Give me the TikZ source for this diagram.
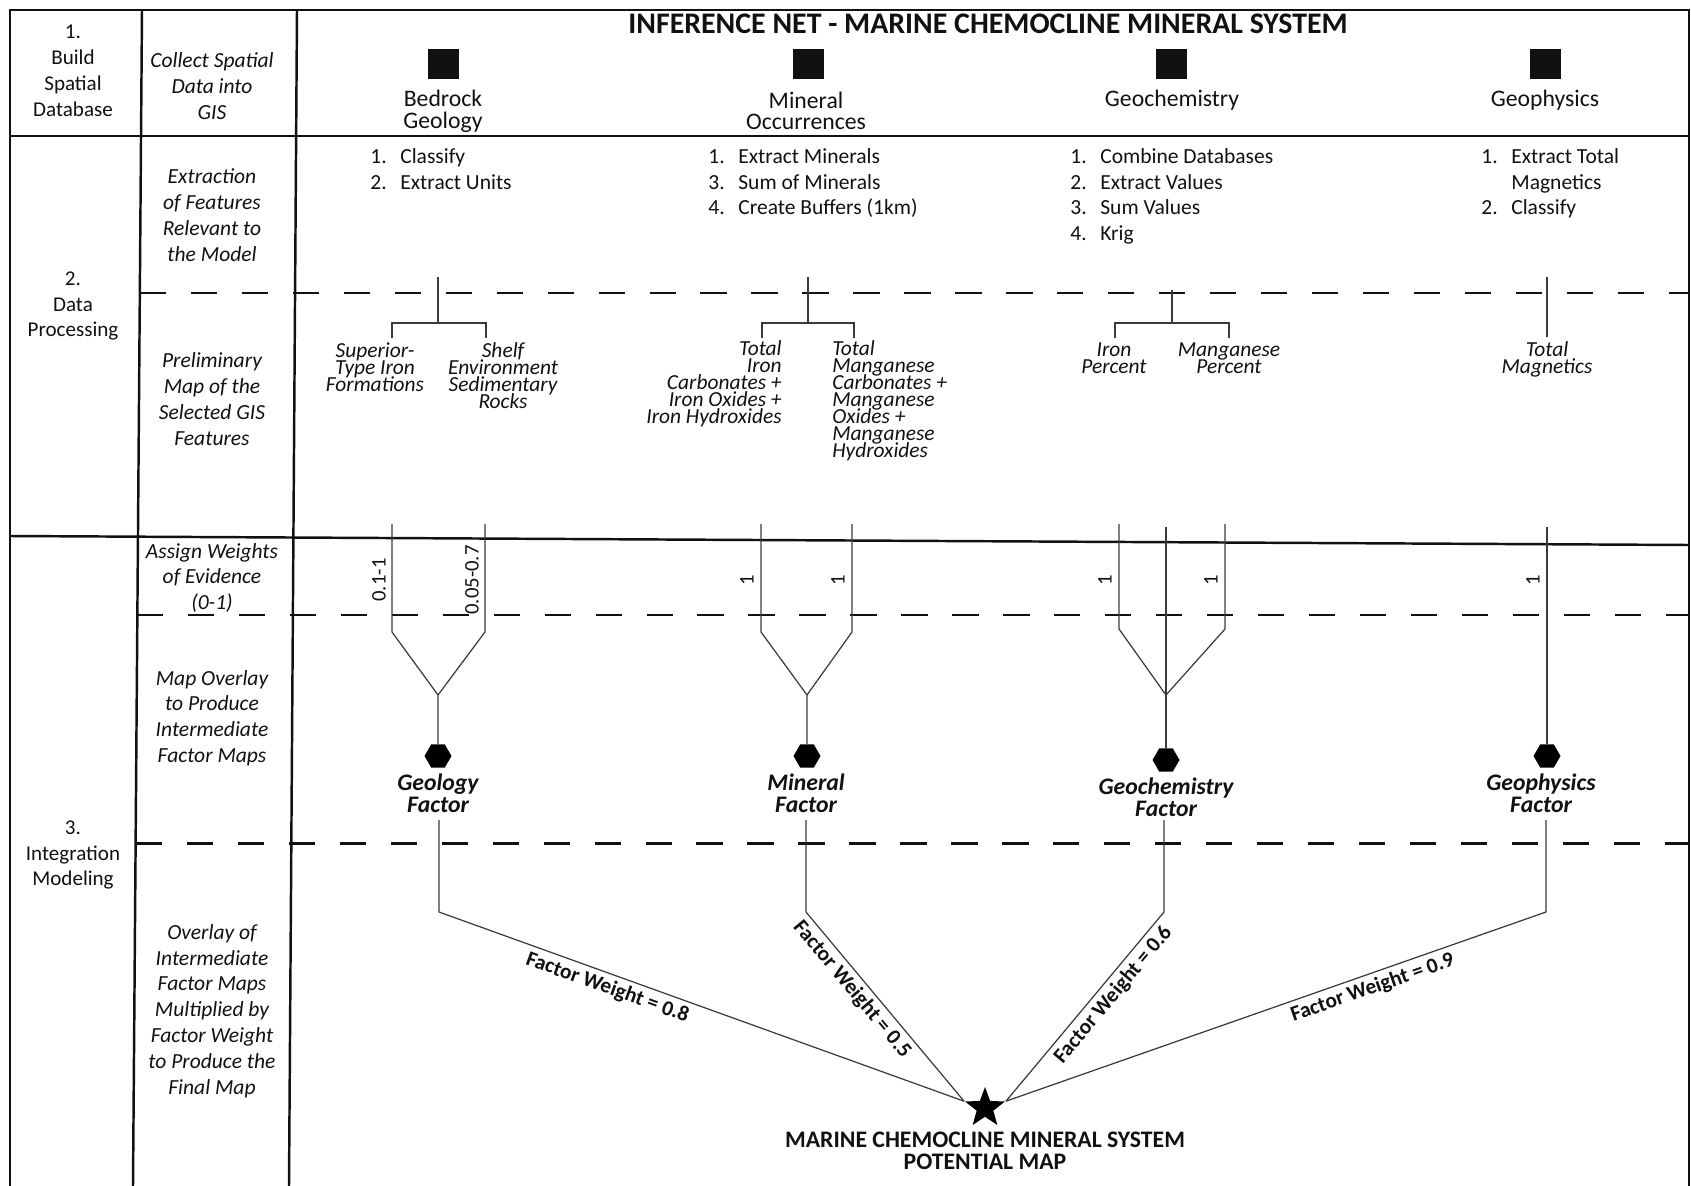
\documentclass[tikz,border=0pt]{standalone}
\usepackage{fontspec}
\setmainfont{Carlito}
\usetikzlibrary{calc,positioning,shapes.geometric}
\definecolor{ink}{HTML}{111111}
\definecolor{wiregray}{HTML}{3A3A3A}
\newcommand{\stepno}[1]{\makebox[0.6cm][l]{#1}}
\newcommand{\tightlines}{\lineskiplimit=-20pt\relax}
\tikzset{
  gridline/.style={draw=ink, line width=1.4pt},
  rowdash/.style={draw=ink, line width=1.7pt, dash pattern=on 15pt off 14pt},
  linkline/.style={draw=wiregray, line width=0.7pt},
  stagetext/.style={align=center, inner sep=0pt, text=ink,
    font={\fontsize{12}{14.7}\selectfont}},
  tasktext/.style={stagetext, font={\fontsize{12.25}{14.7}\selectfont\itshape}},
  titletext/.style={inner sep=0pt, text=ink, font={\fontsize{17}{18}\selectfont\bfseries}},
  sourcebox/.style={fill=ink, minimum size=0.62cm, inner sep=0pt},
  sourcelabel/.style={align=center, inner sep=0pt, text=ink,
    font={\fontsize{13.5}{12.3}\selectfont\tightlines}},
  steplist/.style={align=left, anchor=north west, inner sep=0pt, text=ink,
    font={\fontsize{12.25}{14.7}\selectfont}},
  featlabel/.style={inner sep=0pt, text=ink,
    font={\fontsize{12.2}{9.7}\selectfont\itshape\tightlines}},
  weightnum/.style={rotate=90, inner sep=0pt, text=ink,
    font={\fontsize{11.8}{11.8}\selectfont}},
  factorhex/.style={regular polygon, regular polygon sides=6, fill=black,
    minimum size=0.54cm, inner sep=0pt},
  factorlabel/.style={align=center, inner sep=0pt, text=ink,
    font={\fontsize{13.5}{12.6}\selectfont\bfseries\itshape\tightlines}},
  weightlabel/.style={sloped, below, inner sep=2.5pt, text=ink,
    font={\fontsize{12.2}{12.2}\selectfont\bfseries}},
  mapstarnode/.style={star, star points=5, star point ratio=2.4, fill=black,
    minimum size=0.84cm, inner sep=0pt},
  maplabel/.style={align=center, inner sep=0pt, text=ink,
    font={\fontsize{13.5}{12.8}\selectfont\bfseries\tightlines}}
}

\begin{document}
\begin{tikzpicture}[x=0.02cm,y=-0.02cm]
  \useasboundingbox (0,0) rectangle (1691,1186);

  % Table frame
  \draw[gridline] (10,1186) -- (10,10) -- (1689,10) -- (1689,1186);
  \draw[gridline] (142,10) -- (133,1186);
  \draw[gridline] (297,10) -- (289,1186);
  \draw[gridline] (10,136) -- (1689,136);
  \draw[gridline] (10,536) -- (1689,545);
  \draw[rowdash] (140,293) -- (1689,293);
  \draw[rowdash] (137,615) -- (1689,615);
  \draw[rowdash] (136,843) -- (1689,843);

  % Stage and task columns
  \node[stagetext] (stage1) at (73,71) {1.\\Build\\Spatial\\Database};
  \node[stagetext] (stage2) at (73,306) {2.\\Data\\Processing};
  \node[stagetext] (stage3) at (73,855) {3.\\Integration\\Modeling};
  \node[tasktext] (task1) at (212,86) {Collect Spatial\\Data into\\GIS};
  \node[tasktext] (task2) at (212,215) {Extraction\\of Features\\Relevant to\\the Model};
  \node[tasktext] (task3) at (212,399) {Preliminary\\Map of the\\Selected GIS\\Features};
  \node[tasktext] (task4) at (212,578) {Assign Weights\\of Evidence\\(0-1)};
  \node[tasktext] (task5) at (212,718) {Map Overlay\\to Produce\\Intermediate\\Factor Maps};
  \node[tasktext] (task6) at (212,1011) {Overlay of\\Intermediate\\Factor Maps\\Multiplied by\\Factor Weight\\to Produce the\\Final Map};

  % Data sources
  \node[titletext] (title) at (988,24) {INFERENCE NET - MARINE CHEMOCLINE MINERAL SYSTEM};
  \node[sourcebox] (bedsq) at (443,64) {};
  \node[sourcebox] (minsq) at (808,64) {};
  \node[sourcebox] (chemsq) at (1171,64) {};
  \node[sourcebox] (physq) at (1545,64) {};
  \node[sourcelabel] (bedsrc) at (443,111) {Bedrock\\Geology};
  \node[sourcelabel] (minsrc) at (806,111) {Mineral\\Occurrences};
  \node[sourcelabel] (chemsrc) at (1172,100) {Geochemistry};
  \node[sourcelabel] (physrc) at (1545,100) {Geophysics};

  % Processing steps
  \node[steplist] (bedsteps) at (370,148) {\stepno{1.}Classify\\\stepno{2.}Extract Units};
  \node[steplist] (minsteps) at (708,148) {\stepno{1.}Extract Minerals\\\stepno{3.}Sum of Minerals\\\stepno{4.}Create Buffers (1km)};
  \node[steplist] (chemsteps) at (1070,148) {\stepno{1.}Combine Databases\\\stepno{2.}Extract Values\\\stepno{3.}Sum Values\\\stepno{4.}Krig};
  \node[steplist] (physteps) at (1481,148) {\stepno{1.}Extract Total\\\stepno{}Magnetics\\\stepno{2.}Classify};

  % Preliminary feature maps
  \coordinate (bedtop) at (438,277);   \coordinate (bedfork) at (438,323);
  \coordinate (bedleft) at (392,338);  \coordinate (bedright) at (486,338);
  \coordinate (mintop) at (808,277);   \coordinate (minfork) at (808,323);
  \coordinate (minleft) at (762,338);  \coordinate (minright) at (854,338);
  \coordinate (chemtop) at (1172,290); \coordinate (chemfork) at (1172,323);
  \coordinate (chemleft) at (1115,338); \coordinate (chemright) at (1229,338);
  \coordinate (phytop) at (1547,277);  \coordinate (phyend) at (1547,337);
  \draw[linkline] (bedtop) -- (bedfork);
  \draw[linkline] (bedleft) |- (bedfork) -| (bedright);
  \draw[linkline] (mintop) -- (minfork);
  \draw[linkline] (minleft) |- (minfork) -| (minright);
  \draw[linkline] (chemtop) -- (chemfork);
  \draw[linkline] (chemleft) |- (chemfork) -| (chemright);
  \draw[linkline] (phytop) -- (phyend);
  \node[featlabel, align=center] (featsup) at (375,367) {Superior-\\Type Iron\\Formations};
  \node[featlabel, align=center] (featshelf) at (503,375.5) {Shelf\\Environment\\Sedimentary\\Rocks};
  \node[featlabel, align=right, anchor=east] (featiron) at (782,384) {Total\\Iron\\Carbonates +\\Iron Oxides +\\Iron Hydroxides};
  \node[featlabel, align=left, anchor=west] (featmang) at (832,401) {Total\\Manganese\\Carbonates +\\Manganese\\Oxides +\\Manganese\\Hydroxides};
  \node[featlabel, align=center] (featfe) at (1114,358.5) {Iron\\Percent};
  \node[featlabel, align=center] (featmn) at (1229,358.5) {Manganese\\Percent};
  \node[featlabel, align=center] (featmag) at (1547,359.5) {Total\\Magnetics};

  % Weights of evidence and factor maps
  \node[factorhex] (bedhex) at (438,756) {};
  \node[factorhex] (minhex) at (807,756) {};
  \node[factorhex] (chemhex) at (1166,760) {};
  \node[factorhex] (phyhex) at (1547,756) {};
  \coordinate (bedw1) at (392,524);  \coordinate (bedw2) at (485,524);
  \coordinate (bedjoin) at (438,695);
  \coordinate (minw1) at (761,524);  \coordinate (minw2) at (852,524);
  \coordinate (minjoin) at (807,695);
  \coordinate (chemw1) at (1119,524); \coordinate (chemw2) at (1225,524);
  \coordinate (chemw3) at (1166,527); \coordinate (chemjoin) at (1166,695);
  \coordinate (phyw) at (1547,527);
  \draw[linkline] (bedw1) -- ++(0,108) -- (bedjoin) -- (bedhex);
  \draw[linkline] (bedw2) -- ++(0,108) -- (bedjoin);
  \draw[linkline] (minw1) -- ++(0,108) -- (minjoin) -- (minhex);
  \draw[linkline] (minw2) -- ++(0,108) -- (minjoin);
  \draw[linkline] (chemw1) -- ++(0,105) -- (chemjoin);
  \draw[linkline] (chemw2) -- ++(0,105) -- (chemjoin);
  \draw[linkline] (chemw3) -- (chemhex);
  \draw[linkline] (phyw) -- (phyhex);
  \node[weightnum] (bedwa) at (379,580) {0.1-1};
  \node[weightnum] (bedwb) at (472,580) {0.05-0.7};
  \node[weightnum] (minwa) at (747,580) {1};
  \node[weightnum] (minwb) at (838,580) {1};
  \node[weightnum] (chemwa) at (1105,580) {1};
  \node[weightnum] (chemwb) at (1211,580) {1};
  \node[weightnum] (phywa) at (1533,580) {1};
  \node[factorlabel] (bedfac) at (438,793) {Geology\\Factor};
  \node[factorlabel] (minfac) at (806,793) {Mineral\\Factor};
  \node[factorlabel] (chemfac) at (1166,797) {Geochemistry\\Factor};
  \node[factorlabel] (phyfac) at (1541,793) {Geophysics\\Factor};

  % Final potential map
  \node[mapstarnode] (mapstar) at (985,1108) {};
  \node[maplabel] (maptitle) at (985,1151) {MARINE CHEMOCLINE MINERAL SYSTEM\\POTENTIAL MAP};
  \coordinate (bedfoot) at (439,820);   \coordinate (bedbend) at (439,912);
  \coordinate (minfoot) at (806,820);   \coordinate (minbend) at (806,912);
  \coordinate (chemfoot) at (1164,820); \coordinate (chembend) at (1164,912);
  \coordinate (phyfoot) at (1546,820);  \coordinate (phybend) at (1546,912);
  \draw[linkline] (bedfoot) -- (bedbend) -- node[weightlabel, pos=0.33] (fwgeo) {Factor Weight = 0.8} (mapstar.outer point 2);
  \draw[linkline] (minfoot) -- (minbend) -- node[weightlabel, pos=0.36] (fwmin) {Factor Weight = 0.5} (mapstar.outer point 2);
  \draw[linkline] (chemfoot) -- (chembend) -- node[weightlabel, pos=0.39] (fwchem) {Factor Weight = 0.6} (mapstar.outer point 5);
  \draw[linkline] (phyfoot) -- (phybend) -- node[weightlabel, pos=0.33] (fwphy) {Factor Weight = 0.9} (mapstar.outer point 5);
\end{tikzpicture}
\end{document}
